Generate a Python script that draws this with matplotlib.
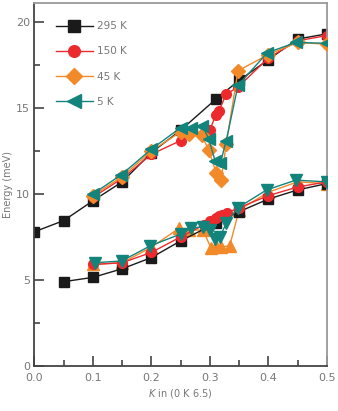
import matplotlib
matplotlib.use("Agg")
import matplotlib.pyplot as plt
from matplotlib.ticker import MultipleLocator

plt.rcParams['font.family'] = ['Liberation Sans Narrow', 'DejaVu Sans']

# 295 K (black squares)
k295_up = [0.0, 0.05, 0.1, 0.15, 0.2, 0.25, 0.31, 0.35, 0.4, 0.45, 0.5]
e295_up = [7.8, 8.45, 9.6, 10.7, 12.4, 13.7, 15.5, 16.6, 17.8, 19.0, 19.3]
k295_lo = [0.05, 0.1, 0.15, 0.2, 0.25, 0.31, 0.35, 0.4, 0.45, 0.5]
e295_lo = [4.9, 5.15, 5.65, 6.3, 7.27, 8.3, 8.97, 9.7, 10.23, 10.6]

# 150 K (red circles)
k150_up = [0.1, 0.15, 0.2, 0.25, 0.3, 0.31, 0.315, 0.328, 0.348, 0.4, 0.45, 0.5]
e150_up = [9.8, 10.9, 12.3, 13.1, 13.7, 14.6, 14.8, 15.8, 16.2, 17.9, 18.9, 19.2]
k150_lo = [0.1, 0.15, 0.2, 0.25, 0.29, 0.3, 0.31, 0.315, 0.32, 0.33, 0.35, 0.4, 0.45, 0.5]
e150_lo = [5.9, 6.0, 6.6, 7.5, 8.2, 8.4, 8.6, 8.7, 8.8, 8.9, 9.2, 9.9, 10.4, 10.7]

# 45 K (orange diamonds / up triangles)
k45_up = [0.1, 0.15, 0.2, 0.25, 0.265, 0.286, 0.298, 0.311, 0.319, 0.328, 0.348, 0.4, 0.45, 0.5]
e45_up = [9.9, 11.0, 12.5, 13.6, 13.5, 13.4, 12.55, 11.2, 10.8, 12.9, 17.15, 18.1, 18.8, 18.7]
k45_lo = [0.1, 0.15, 0.2, 0.247, 0.265, 0.288, 0.302, 0.311, 0.319, 0.334, 0.35, 0.4, 0.45, 0.5]
e45_lo = [5.9, 6.0, 6.9, 8.0, 7.9, 7.9, 6.85, 7.0, 6.9, 7.0, 9.07, 10.1, 10.7, 10.6]

# 5 K (teal left / down triangles)
k5_up = [0.1, 0.148, 0.2, 0.25, 0.268, 0.287, 0.298, 0.309, 0.318, 0.328, 0.348, 0.398, 0.447, 0.5]
e5_up = [10.0, 11.1, 12.6, 13.85, 13.85, 13.97, 13.2, 11.9, 11.8, 13.1, 16.3, 18.2, 18.8, 18.75]
k5_lo = [0.103, 0.149, 0.198, 0.25, 0.268, 0.288, 0.3, 0.308, 0.317, 0.328, 0.348, 0.397, 0.447, 0.5]
e5_lo = [6.0, 6.1, 6.98, 7.67, 8.0, 8.1, 7.9, 7.4, 7.5, 8.3, 9.2, 10.23, 10.8, 10.7]

black = "#1a1a1a"
red = "#ec2a2e"
orange = "#f28a2a"
teal = "#13847c"

fig = plt.figure(figsize=(3.38, 4.11), dpi=100)
ax = fig.add_axes([0.102, 0.1095, 0.865, 0.8835])

ms = 7
lw = 1.0
ax.plot(k5_lo, e5_lo, color=teal, lw=lw, marker="v", ms=ms + 1, zorder=3)
ax.plot(k45_lo, e45_lo, color=orange, lw=lw, marker="^", ms=ms + 1, zorder=2)
ax.plot(k150_lo, e150_lo, color=red, lw=lw, marker="o", ms=ms, zorder=2.5)
ax.plot(k295_lo, e295_lo, color=black, lw=lw, marker="s", ms=ms, zorder=2.2)

ax.plot(k295_up, e295_up, color=black, lw=lw, marker="s", ms=ms, label="295 K", zorder=2)
ax.plot(k150_up, e150_up, color=red, lw=lw, marker="o", ms=ms, label="150 K", zorder=2.5)
ax.plot(k45_up, e45_up, color=orange, lw=lw, marker="D", ms=ms, label="45 K", zorder=2.7)
ax.plot(k5_up, e5_up, color=teal, lw=lw, marker="<", ms=ms + 1, label="5 K", zorder=3)

ax.set_xlim(0, 0.5)
ax.set_ylim(0, 21.1)
ax.xaxis.set_major_locator(MultipleLocator(0.1))
ax.xaxis.set_minor_locator(MultipleLocator(0.05))
ax.yaxis.set_major_locator(MultipleLocator(5))
ax.yaxis.set_minor_locator(MultipleLocator(2.5))
ax.xaxis.set_major_formatter(plt.FuncFormatter(lambda v, p: f"{v:.1f}"))
ax.tick_params(which="both", direction="in", colors="#444444", labelcolor="#777777",
               labelsize=8, width=1.2)
ax.tick_params(which="major", length=7)
ax.tick_params(which="minor", length=4)
ax.tick_params(axis="x", pad=5)
ax.tick_params(axis="y", pad=3)

for side in ("left", "bottom"):
    ax.spines[side].set_color("#444444")
    ax.spines[side].set_linewidth(1.3)
for side in ("top", "right"):
    ax.spines[side].set_color("#9a9a9a")
    ax.spines[side].set_linewidth(1.3)

ax.set_ylabel("Energy (meV)", fontsize=7, color="#777777", labelpad=2)
ax.set_xlabel("$K$ in (0 K 6.5)", fontsize=7, color="#777777", labelpad=3)

leg = ax.legend(loc="upper left", bbox_to_anchor=(0.04, 0.975), frameon=False,
                fontsize=7.5, handlelength=3.6, labelspacing=1.45, handletextpad=0.4,
                markerscale=1.2)
for t in leg.get_texts():
    t.set_color("#777777")

fig.savefig("out.png", dpi=100)
